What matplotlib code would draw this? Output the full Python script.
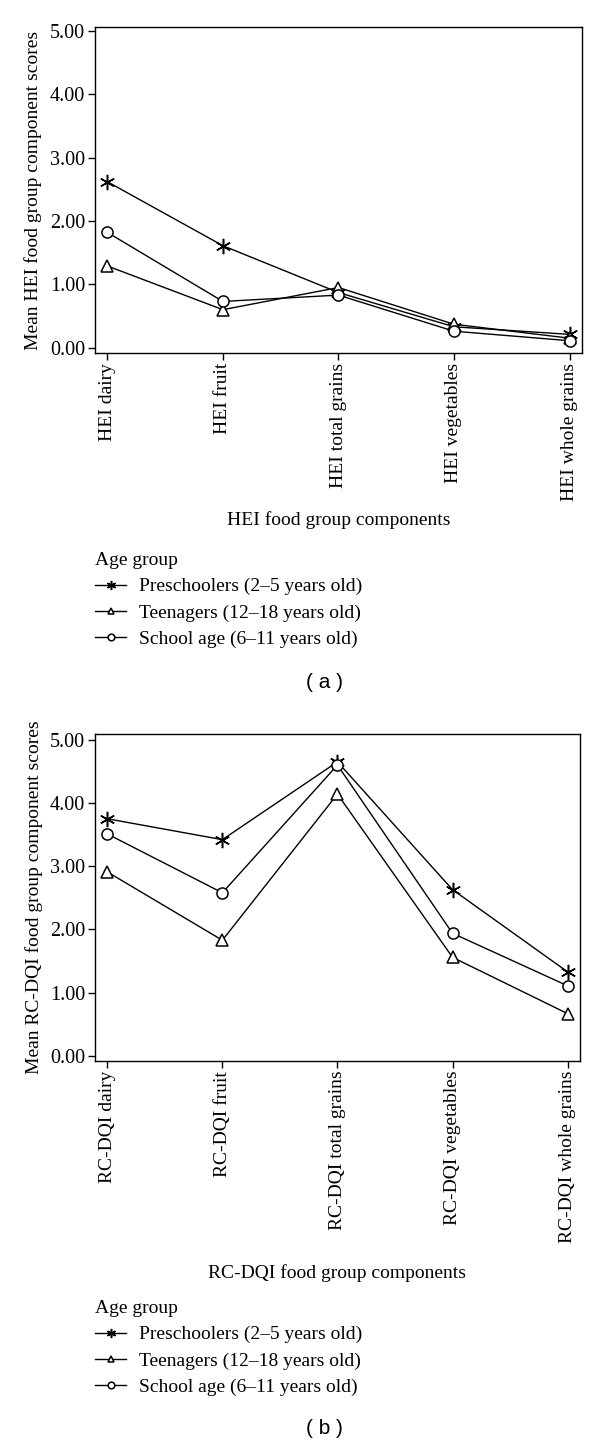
import numpy as np
import matplotlib
matplotlib.use("Agg")
import matplotlib.pyplot as plt

plt.rcParams["font.family"] = ["Liberation Serif", "DejaVu Serif"]

hei_labels = ["HEI dairy", "HEI fruit", "HEI total grains", "HEI vegetables", "HEI whole grains"]
dqi_labels = ["RC-DQI dairy", "RC-DQI fruit", "RC-DQI total grains", "RC-DQI vegetables", "RC-DQI whole grains"]
groups = ["Preschoolers (2\u20135 years old)", "Teenagers (12\u201318 years old)", "School age (6\u201311 years old)"]

hei_pre = [2.62, 1.61, 0.87, 0.33, 0.21]
hei_teen = [1.29, 0.60, 0.95, 0.37, 0.15]
hei_school = [1.82, 0.73, 0.83, 0.26, 0.11]

dqi_pre = [3.75, 3.42, 4.65, 2.63, 1.33]
dqi_teen = [2.91, 1.83, 4.14, 1.56, 0.67]
dqi_school = [3.51, 2.58, 4.60, 1.94, 1.11]

W, H = 600, 1445
fig = plt.figure(figsize=(W / 100, H / 100), dpi=100)

markers = [(6, 2, 0), "^", "o"]
msizes = [11, 8, 8]


def fy(px):
    return 1 - px / H


def panel(rect, labels, series, ylabel, xlabel, ylim, xlab_y, leg_top, tag, tag_y):
    ax = fig.add_axes(rect)
    x = np.arange(len(labels))
    for vals, m, ms, name in zip(series, markers, msizes, groups):
        ax.plot(x, vals, color="black", lw=1.0, marker=m, ms=ms,
                mfc="white" if m != markers[0] else "black", mec="black", mew=1.1, label=name)
    ax.set_xlim(-0.107, 4.108)
    ax.set_ylim(*ylim)
    ax.set_yticks([0, 1, 2, 3, 4, 5])
    ax.set_yticklabels(["%.2f" % v for v in range(6)])
    ax.set_xticks(x)
    ax.set_xticklabels(labels, rotation=90)
    ax.tick_params(direction="out", length=5, width=1, labelsize=14, pad=2)
    ax.tick_params(axis="y", labelsize=14.5, pad=2)
    for s in ax.spines.values():
        s.set_linewidth(1.0)
    ax.set_ylabel(ylabel, fontsize=14)
    ax.yaxis.set_label_coords(-0.108, 0.5)
    ax.set_xlabel(xlabel, fontsize=14, va="center")
    ax.xaxis.set_label_coords(0.5, xlab_y)
    ax.legend(loc="upper left", bbox_to_anchor=(95 / W, fy(leg_top)),
              bbox_transform=fig.transFigure, frameon=False, title="Age group",
              alignment="left", fontsize=14, title_fontsize=14, borderpad=0,
              borderaxespad=0, handlelength=1.6, handletextpad=0.65,
              labelspacing=0.45, markerscale=0.6)
    fig.text(0.54, fy(tag_y), "( %s )" % tag, ha="center", va="center",
             fontsize=15, family="Liberation Sans")
    return ax


panel([95 / W, fy(353), 487 / W, 326 / H], hei_labels, [hei_pre, hei_teen, hei_school],
      "Mean HEI food group component scores", "HEI food group components",
      (-0.084, 5.063), -0.512, 552, "a", 683)
panel([95 / W, fy(1061), 485 / W, 327 / H], dqi_labels, [dqi_pre, dqi_teen, dqi_school],
      "Mean RC-DQI food group component scores", "RC-DQI food group components",
      (-0.079, 5.09), -0.648, 1300, "b", 1429)

fig.savefig("out.png", dpi=100)
